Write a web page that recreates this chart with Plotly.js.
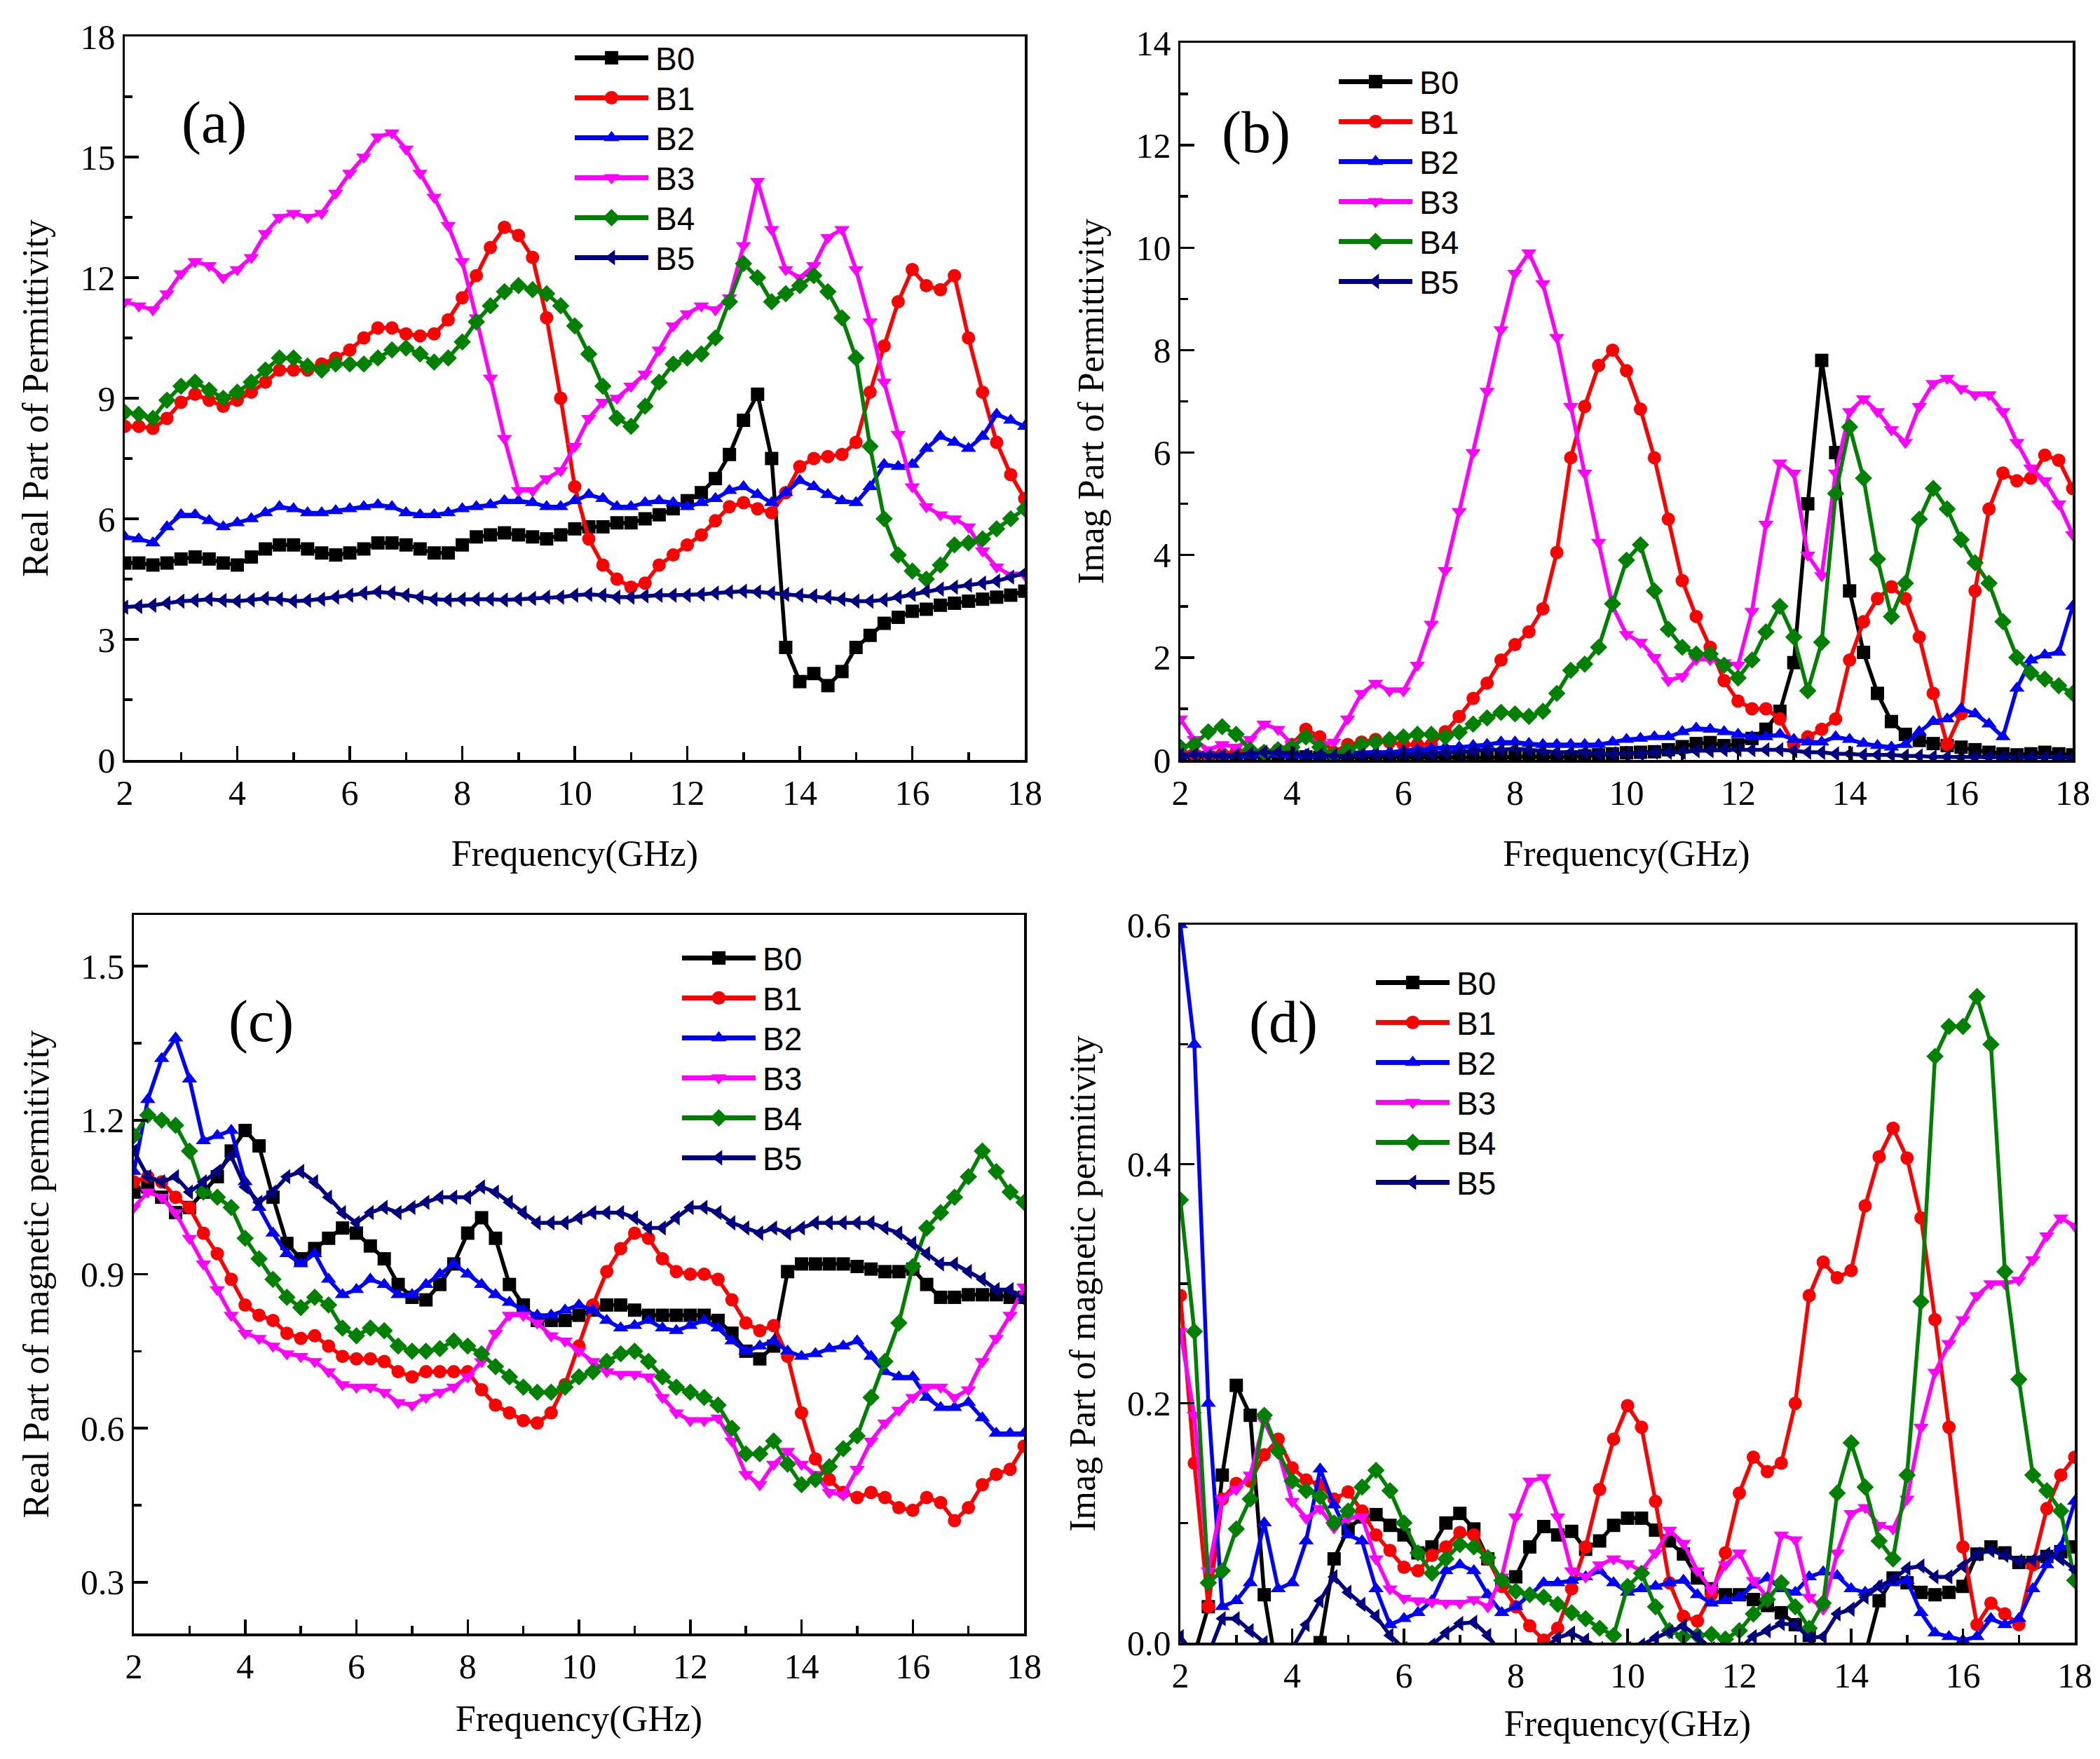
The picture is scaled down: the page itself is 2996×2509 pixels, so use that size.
<!DOCTYPE html>
<html>
<head>
<meta charset="utf-8">
<script src="https://cdn.plot.ly/plotly-3.0.1.min.js"></script>
<style>html,body{margin:0;padding:0;background:#fff;} #chart{width:2996px;height:2509px;}</style>
</head>
<body>
<div id="chart"></div>
<script>
var freq = [2,2.25,2.5,2.75,3,3.25,3.5,3.75,4,4.25,4.5,4.75,5,5.25,5.5,5.75,6,6.25,6.5,6.75,7,7.25,7.5,7.75,8,8.25,8.5,8.75,9,9.25,9.5,9.75,10,10.25,10.5,10.75,11,11.25,11.5,11.75,12,12.25,12.5,12.75,13,13.25,13.5,13.75,14,14.25,14.5,14.75,15,15.25,15.5,15.75,16,16.25,16.5,16.75,17,17.25,17.5,17.75,18];
var seriesNames = ["B0","B1","B2","B3","B4","B5"];
var seriesColors = ["#000000","#ff0000","#0000ff","#ff00ff","#008000","#000080"];
var seriesSymbols = ["square","circle","triangle-up","triangle-down","diamond","triangle-left"];
var panelLabels = ["(a)","(b)","(c)","(d)"];
var yTitles = ["Real Part of Permittivity","Imag Part of Permittivity","Real Part of magnetic permitivity","Imag Part of magnetic permitivity"];
var xTitle = "Frequency(GHz)";

// (a) Real part of permittivity
var a_B0 = [4.9,4.9,4.85,4.9, 5.0,5.05,5.0,4.9, 4.85,5.05,5.25,5.35, 5.35,5.25,5.15,5.1, 5.15,5.25,5.4,5.4, 5.35,5.25,5.15,5.15, 5.35,5.55,5.6,5.65, 5.6,5.55,5.5,5.6, 5.75,5.8,5.8,5.9, 5.9,6.0,6.1,6.25, 6.45,6.65,7.0,7.6, 8.45,9.1,7.5,2.8, 1.95,2.15,1.85,2.2, 2.8,3.1,3.4,3.55, 3.7,3.75,3.85,3.9, 3.95,4.0,4.05,4.1, 4.2];
var a_B1 = [8.3,8.3,8.25,8.5, 8.9,9.1,8.95,8.8, 8.95,9.15,9.4,9.7, 9.7,9.7,9.85,10.0, 10.2,10.5,10.75,10.75, 10.6,10.55,10.6,10.95, 11.5,12.05,12.75,13.25, 13.05,12.5,11.0,9.0, 6.8,5.5,4.85,4.5, 4.3,4.4,4.85,5.1, 5.35,5.6,5.95,6.3, 6.4,6.25,6.15,6.65, 7.3,7.5,7.55,7.6, 7.9,9.15,10.3,11.4, 12.2,11.8,11.7,12.05, 10.5,9.15,7.9,7.1, 6.5];
var a_B2 = [5.55,5.5,5.4,5.8, 6.1,6.1,5.95,5.8, 5.9,6.0,6.15,6.3, 6.25,6.15,6.15,6.2, 6.25,6.3,6.35,6.3, 6.15,6.1,6.1,6.15, 6.25,6.3,6.35,6.45, 6.45,6.4,6.3,6.3, 6.45,6.6,6.5,6.3, 6.3,6.4,6.45,6.4, 6.3,6.4,6.5,6.7, 6.8,6.6,6.4,6.65, 6.95,6.8,6.6,6.45, 6.4,6.8,7.35,7.3, 7.35,7.75,8.05,7.9, 7.75,8.05,8.6,8.45, 8.3];
var a_B3 = [11.4,11.3,11.2,11.6, 12.1,12.4,12.3,12.0, 12.2,12.5,13.1,13.5, 13.6,13.5,13.6,14.1, 14.6,15.0,15.5,15.6, 15.2,14.6,14.0,13.3, 12.4,11.0,9.5,8.0, 6.7,6.7,7.0,7.2, 7.8,8.5,8.9,9.0, 9.3,9.6,10.2,10.8, 11.1,11.3,11.2,11.5, 12.8,14.4,13.2,12.2, 12.0,12.3,13.0,13.2, 12.2,10.9,9.4,8.1, 6.8,6.3,6.1,6.0, 5.8,5.2,4.8,4.6, 4.6];
var a_B4 = [8.65,8.6,8.5,8.95, 9.3,9.4,9.2,9.0, 9.15,9.4,9.7,10.0, 10.0,9.8,9.7,9.85, 9.85,9.85,10.0,10.2, 10.25,10.1,9.9,10.0, 10.4,10.9,11.3,11.65, 11.8,11.7,11.6,11.3, 10.8,10.1,9.3,8.5, 8.3,8.8,9.4,9.85, 10.0,10.1,10.5,11.4, 12.35,12.0,11.4,11.6, 11.8,12.05,11.65,11.0, 10.0,7.8,6.0,5.1, 4.7,4.5,4.85,5.35, 5.4,5.5,5.75,6.0, 6.25];
var a_B5 = [3.8,3.82,3.85,3.9, 3.95,3.97,4.0,3.97, 3.95,3.98,4.02,4.0, 3.95,3.97,4.0,4.05, 4.1,4.15,4.18,4.15, 4.1,4.05,4.0,3.98, 4.0,4.0,4.0,3.98, 4.0,4.02,4.05,4.05, 4.1,4.12,4.1,4.05, 4.05,4.08,4.1,4.1, 4.1,4.12,4.15,4.18, 4.2,4.18,4.15,4.12, 4.1,4.08,4.05,4.0, 3.95,3.95,3.98,4.05, 4.12,4.2,4.25,4.3, 4.35,4.4,4.45,4.55, 4.65];

// (b) Imaginary part of permittivity
var b_B0 = [0.06,0.06,0.05,0.05, 0.05,0.06,0.08,0.08, 0.07,0.06,0.05,0.05, 0.05,0.05,0.06,0.06, 0.06,0.05,0.05,0.05, 0.05,0.04,0.04,0.05, 0.06,0.06,0.05,0.05, 0.06,0.08,0.1,0.12, 0.14,0.15,0.16,0.2, 0.26,0.32,0.34,0.28, 0.3,0.42,0.6,0.95, 1.9,5.0,7.8,6.0, 3.3,2.1,1.3,0.75, 0.5,0.38,0.32,0.28, 0.25,0.2,0.15,0.12, 0.1,0.12,0.15,0.12, 0.1];
var b_B1 = [0.15,0.12,0.1,0.12, 0.15,0.15,0.15,0.2, 0.3,0.6,0.45,0.15, 0.3,0.35,0.4,0.35, 0.3,0.3,0.3,0.55, 0.85,1.2,1.5,1.95, 2.25,2.5,2.95,4.05, 5.9,6.9,7.7,8.0, 7.6,6.85,5.9,4.7, 3.5,2.8,2.2,1.55, 1.15,1.0,1.0,0.8, 0.3,0.45,0.6,0.8, 1.95,2.7,3.15,3.38, 3.15,2.4,1.3,0.3, 0.9,3.3,4.9,5.6, 5.45,5.5,5.95,5.85, 5.3];
var b_B2 = [0.1,0.12,0.12,0.1, 0.1,0.1,0.12,0.12, 0.1,0.1,0.1,0.12, 0.12,0.15,0.15,0.15, 0.18,0.2,0.22,0.25, 0.25,0.28,0.3,0.35, 0.35,0.32,0.3,0.3, 0.3,0.3,0.3,0.35, 0.4,0.42,0.45,0.45, 0.55,0.62,0.6,0.55, 0.5,0.45,0.45,0.5, 0.4,0.35,0.35,0.45, 0.4,0.32,0.28,0.25, 0.3,0.55,0.75,0.8, 1.0,0.9,0.7,0.45, 1.4,1.95,2.05,2.1, 3.0];
var b_B3 = [0.8,0.4,0.2,0.3, 0.25,0.4,0.7,0.6, 0.3,0.45,0.3,0.35, 0.8,1.3,1.5,1.35, 1.35,1.85,2.65,3.7, 4.85,6.0,7.2,8.4, 9.5,9.9,9.3,8.25, 6.9,5.6,4.25,3.0, 2.45,2.3,2.0,1.55, 1.63,1.96,1.96,1.9, 1.85,2.9,4.6,5.8, 5.6,4.0,3.6,5.6, 6.8,7.05,6.8,6.45, 6.2,6.9,7.35,7.45, 7.25,7.13,7.13,6.8, 6.2,5.7,5.45,5.0, 4.4];
var b_B4 = [0.25,0.3,0.55,0.65, 0.5,0.2,0.15,0.2, 0.25,0.45,0.25,0.1, 0.2,0.3,0.35,0.4, 0.45,0.5,0.5,0.45, 0.54,0.7,0.82,0.93, 0.9,0.85,0.95,1.3, 1.75,1.87,2.2,3.05, 3.9,4.2,3.3,2.55, 2.2,2.07,2.07,1.85, 1.6,1.95,2.5,3.0, 2.4,1.35,2.3,5.2, 6.5,5.5,3.92,2.8, 3.45,4.7,5.3,4.9, 4.3,3.85,3.45,2.7, 2.0,1.7,1.58,1.45, 1.3];
var b_B5 = [0.1,0.1,0.08,0.08, 0.1,0.12,0.15,0.15, 0.12,0.1,0.1,0.08, 0.08,0.1,0.1,0.1, 0.1,0.12,0.12,0.15, 0.15,0.18,0.2,0.2, 0.22,0.2,0.18,0.15, 0.15,0.15,0.12,0.12, 0.12,0.12,0.15,0.15, 0.15,0.18,0.18,0.2, 0.2,0.2,0.2,0.2, 0.18,0.15,0.15,0.12, 0.12,0.1,0.1,0.1, 0.08,0.08,0.06,0.06, 0.05,0.05,0.05,0.05, 0.05,0.05,0.05,0.05, 0.05];

// (c) Real part of magnetic permeability
var c_B0 = [1.06,1.07,1.05,1.02, 1.03,1.06,1.09,1.14, 1.18,1.15,1.05,0.96, 0.93,0.95,0.97,0.99, 0.98,0.955,0.93,0.88, 0.855,0.85,0.88,0.92, 0.98,1.01,0.97,0.88, 0.84,0.81,0.81,0.81, 0.82,0.83,0.84,0.84, 0.83,0.82,0.82,0.82, 0.82,0.82,0.81,0.785, 0.75,0.735,0.76,0.905, 0.92,0.92,0.92,0.92, 0.915,0.91,0.905,0.905, 0.91,0.88,0.855,0.855, 0.86,0.86,0.86,0.855, 0.855];
var c_B1 = [1.08,1.09,1.08,1.05, 1.03,0.98,0.94,0.89, 0.84,0.82,0.81,0.785, 0.775,0.78,0.76,0.74, 0.735,0.735,0.73,0.71, 0.70,0.71,0.71,0.71, 0.71,0.675,0.645,0.63, 0.615,0.61,0.63,0.685, 0.76,0.84,0.905,0.95, 0.98,0.97,0.93,0.905, 0.90,0.90,0.89,0.85, 0.805,0.79,0.80,0.74, 0.63,0.54,0.50,0.475, 0.465,0.475,0.465,0.445, 0.44,0.465,0.455,0.42, 0.445,0.49,0.51,0.52, 0.565];
var c_B2 = [1.10,1.24,1.32,1.36, 1.28,1.16,1.17,1.18, 1.08,1.03,0.98,0.94, 0.92,0.94,0.89,0.86, 0.87,0.89,0.88,0.86, 0.86,0.88,0.90,0.92, 0.90,0.88,0.86,0.845, 0.83,0.82,0.82,0.83, 0.84,0.83,0.81,0.795, 0.80,0.81,0.795,0.79, 0.80,0.81,0.795,0.77, 0.75,0.76,0.77,0.75, 0.74,0.745,0.755,0.76, 0.77,0.74,0.71,0.70, 0.70,0.66,0.64,0.64, 0.65,0.62,0.59,0.59, 0.59];
var c_B3 = [1.03,1.06,1.05,1.02, 0.97,0.92,0.87,0.82, 0.785,0.775,0.76,0.745, 0.74,0.73,0.71,0.685, 0.68,0.68,0.67,0.65, 0.645,0.66,0.67,0.68, 0.70,0.73,0.785,0.82, 0.82,0.805,0.78,0.77, 0.75,0.73,0.71,0.705, 0.705,0.70,0.66,0.63, 0.615,0.615,0.62,0.575, 0.51,0.49,0.53,0.555, 0.53,0.51,0.475,0.47, 0.52,0.575,0.61,0.635, 0.66,0.68,0.68,0.66, 0.675,0.73,0.775,0.82, 0.875];
var c_B4 = [1.17,1.21,1.20,1.19, 1.14,1.06,1.05,1.03, 0.97,0.93,0.89,0.855, 0.835,0.855,0.84,0.795, 0.78,0.795,0.79,0.76, 0.75,0.75,0.755,0.77, 0.76,0.745,0.72,0.70, 0.68,0.67,0.67,0.68, 0.70,0.71,0.73,0.745, 0.75,0.73,0.70,0.68, 0.67,0.66,0.645,0.60, 0.55,0.55,0.575,0.53, 0.49,0.50,0.525,0.56, 0.585,0.66,0.73,0.805, 0.915,0.99,1.02,1.05, 1.09,1.14,1.10,1.06, 1.04];
var c_B5 = [1.14,1.09,1.08,1.09, 1.06,1.08,1.10,1.13, 1.07,1.04,1.06,1.09, 1.10,1.08,1.05,1.02, 1.0,1.02,1.03,1.02, 1.03,1.04,1.05,1.05, 1.05,1.07,1.06,1.04, 1.02,1.0,1.0,1.0, 1.01,1.02,1.02,1.02, 1.01,0.99,0.99,1.01, 1.03,1.03,1.02,1.0, 0.99,0.98,0.99,0.98, 0.99,1.0,1.0,1.0, 1.0,1.0,0.99,0.98, 0.96,0.94,0.92,0.92, 0.905,0.89,0.87,0.87, 0.85];

// (d) Imaginary part of magnetic permeability
var d_B0 = [-0.02,-0.01,0.03,0.14, 0.215,0.19,0.04,-0.03, -0.05,-0.04,0.0,0.07, 0.095,0.105,0.107,0.098, 0.09,0.075,0.08,0.1, 0.108,0.095,0.07,0.05, 0.055,0.08,0.097,0.09, 0.093,0.078,0.085,0.098, 0.104,0.104,0.094,0.085, 0.074,0.054,0.045,0.04, 0.04,0.036,0.031,0.025, 0.015,0.006,-0.02,-0.04, -0.04,-0.01,0.035,0.054, 0.05,0.042,0.04,0.042, 0.047,0.074,0.08,0.075, 0.067,0.067,0.072,0.076, 0.08];
var d_B1 = [0.29,0.15,0.03,0.12, 0.133,0.135,0.157,0.17, 0.146,0.136,0.132,0.12, 0.126,0.11,0.09,0.077, 0.063,0.06,0.073,0.08, 0.092,0.09,0.07,0.047, 0.03,0.014,0.002,0.012, 0.045,0.08,0.128,0.17, 0.198,0.18,0.118,0.05, 0.022,0.018,0.04,0.075, 0.125,0.155,0.143,0.15, 0.2,0.29,0.318,0.305, 0.311,0.365,0.406,0.43, 0.405,0.355,0.27,0.18, 0.08,0.015,0.033,0.024, 0.015,0.065,0.112,0.14, 0.155];
var d_B2 = [0.6,0.5,0.2,0.03, 0.035,0.05,0.1,0.045, 0.05,0.085,0.145,0.115, 0.09,0.085,0.045,0.015, 0.02,0.025,0.035,0.06, 0.065,0.06,0.04,0.025, 0.03,0.04,0.05,0.05, 0.052,0.055,0.06,0.05, 0.042,0.045,0.047,0.05, 0.052,0.04,0.033,0.035, 0.038,0.048,0.054,0.045, 0.042,0.055,0.059,0.056, 0.045,0.042,0.047,0.05, 0.052,0.025,0.008,0.005, 0.002,0.005,0.02,0.015, 0.02,0.045,0.065,0.08, 0.118];
var d_B3 = [0.26,0.19,0.06,0.12, 0.128,0.14,0.185,0.16, 0.118,0.104,0.112,0.096, 0.104,0.105,0.07,0.045, 0.037,0.035,0.034,0.033, 0.033,0.036,0.03,0.055, 0.105,0.135,0.138,0.105, 0.06,0.055,0.065,0.07, 0.066,0.06,0.075,0.094, 0.083,0.06,0.044,0.065, 0.075,0.052,0.038,0.09, 0.086,0.038,0.028,0.075, 0.108,0.113,0.098,0.095, 0.12,0.18,0.226,0.25, 0.27,0.29,0.30,0.30, 0.303,0.32,0.34,0.355, 0.348];
var d_B4 = [0.37,0.26,0.05,0.06, 0.095,0.12,0.19,0.16, 0.135,0.127,0.122,0.10, 0.11,0.13,0.144,0.127, 0.10,0.075,0.058,0.07, 0.082,0.08,0.071,0.052, 0.043,0.04,0.038,0.032, 0.025,0.02,0.012,0.006, 0.047,0.058,0.03,0.01, 0.005,0.006,0.007,0.003, 0.01,0.024,0.036,0.05, 0.03,0.012,0.033,0.125, 0.167,0.13,0.085,0.07, 0.14,0.285,0.49,0.515, 0.515,0.54,0.50,0.31, 0.22,0.14,0.127,0.11, 0.052];
var d_B5 = [0.005,-0.01,-0.01,0.02, 0.02,0.01,0.0,-0.02, -0.005,0.015,0.035,0.055, 0.042,0.032,0.022,0.006, -0.005,-0.01,-0.002,0.008, 0.016,0.017,0.006,-0.01, -0.02,-0.01,-0.005,0.004, 0.008,0.002,-0.005,-0.01, -0.005,-0.002,0.004,0.009, 0.014,0.005,-0.005,-0.01, -0.005,0.005,0.01,0.016, 0.015,0.004,0.005,0.024, 0.028,0.038,0.047,0.053, 0.062,0.064,0.055,0.055, 0.064,0.074,0.077,0.073, 0.068,0.069,0.074,0.07, 0.061];

var panelData = [
  [a_B0,a_B1,a_B2,a_B3,a_B4,a_B5],
  [b_B0,b_B1,b_B2,b_B3,b_B4,b_B5],
  [c_B0,c_B1,c_B2,c_B3,c_B4,c_B5],
  [d_B0,d_B1,d_B2,d_B3,d_B4,d_B5]
];

var W = 2996, H = 2509;
function px(x){ return x / W; }
function py(y){ return 1 - y / H; }

var panels = [
  {xd:[px(178),px(1462)], yd:[py(1084),py(52)],  yr:[0,18],   dt:3,   t0:0,   mdt:1.5,  fmt:'',    xstand:42, ystand:30, leg:[px(815),py(46)],  lab:[px(305),py(175)]},
  {xd:[px(1684),px(2957)], yd:[py(1084),py(61)], yr:[0,14],   dt:2,   t0:0,   mdt:1,    fmt:'',    xstand:42, ystand:30, leg:[px(1905),py(80)], lab:[px(1792),py(189)]},
  {xd:[px(191),px(1461)], yd:[py(2330),py(1305)], yr:[0.2,1.6], dt:0.3, t0:0.3, mdt:0.15, fmt:'.1f', xstand:30, ystand:30, leg:[px(968),py(1330)], lab:[px(372),py(1457)]},
  {xd:[px(1684),px(2960)], yd:[py(2343),py(1319)], yr:[0,0.6], dt:0.2, t0:0,   mdt:0.1,  fmt:'.1f', xstand:24, ystand:30, leg:[px(1958),py(1365)], lab:[px(1831),py(1458)]}
];

var serif = 'Liberation Serif, Times New Roman, serif';
var sans = 'Liberation Sans, Arial, sans-serif';

var traces = [];
var layout = {
  width: W, height: H,
  margin: {l:0, r:0, t:0, b:0},
  paper_bgcolor: '#ffffff', plot_bgcolor: '#ffffff',
  showlegend: true,
  annotations: []
};

panels.forEach(function(p, i){
  var n = i + 1;
  var xa = 'xaxis' + (n === 1 ? '' : n);
  var ya = 'yaxis' + (n === 1 ? '' : n);
  var xr = 'x' + (n === 1 ? '' : n);
  var yr = 'y' + (n === 1 ? '' : n);
  var legName = 'legend' + (n === 1 ? '' : n);
  layout[xa] = {
    domain: p.xd, anchor: yr, range: [2, 18], tick0: 2, dtick: 2,
    ticks: 'inside', ticklen: 20, tickwidth: 3.5, tickcolor: '#000',
    minor: {ticks: 'inside', ticklen: 11, tickwidth: 3.5, tickcolor: '#000', dtick: 1, tick0: 2},
    showline: true, linewidth: 3.5, linecolor: '#000', mirror: true,
    showgrid: false, zeroline: false, automargin: false,
    tickfont: {family: serif, size: 50, color: '#000'},
    title: {text: xTitle, font: {family: serif, size: 52, color: '#000'}, standoff: p.xstand}
  };
  layout[ya] = {
    domain: p.yd, anchor: xr, range: p.yr, tick0: p.t0, dtick: p.dt, tickformat: p.fmt,
    ticks: 'inside', ticklen: 20, tickwidth: 3.5, tickcolor: '#000',
    minor: {ticks: 'inside', ticklen: 11, tickwidth: 3.5, tickcolor: '#000', dtick: p.mdt, tick0: p.t0},
    showline: true, linewidth: 3.5, linecolor: '#000', mirror: true,
    showgrid: false, zeroline: false, automargin: false,
    tickfont: {family: serif, size: 50, color: '#000'},
    title: {text: yTitles[i], font: {family: serif, size: 52, color: '#000'}, standoff: p.ystand}
  };
  layout[legName] = {
    x: p.leg[0], y: p.leg[1], xanchor: 'left', yanchor: 'top',
    bgcolor: 'rgba(0,0,0,0)', borderwidth: 0,
    font: {family: sans, size: 46, color: '#000'},
    itemwidth: 110, tracegroupgap: 0
  };
  layout.annotations.push({
    xref: 'paper', yref: 'paper', x: p.lab[0], y: p.lab[1], xanchor: 'center', yanchor: 'middle',
    text: panelLabels[i], showarrow: false, font: {family: serif, size: 84, color: '#000'}
  });
  panelData[i].forEach(function(vals, k){
    traces.push({
      type: 'scatter', mode: 'lines+markers', x: freq, y: vals,
      xaxis: xr, yaxis: yr, name: seriesNames[k], legend: legName,
      line: {color: seriesColors[k], width: 5.5},
      marker: {symbol: seriesSymbols[k], size: 19, color: seriesColors[k], line: {width: 0}}
    });
  });
});

Plotly.newPlot('chart', traces, layout, {staticPlot: true}).then(function(gd){
  var L = 105, ROW = 57;
  var groups = [];
  gd.querySelectorAll('.legendlines').forEach(function(ll){
    var item = ll.closest('.traces');
    if (!item) return;
    var parent = item.parentNode;
    if (groups.indexOf(parent) < 0) { groups.push(parent); }
    item.querySelectorAll('.legendlines path').forEach(function(pth){
      pth.setAttribute('d', 'M5,0h' + L);
      pth.style.strokeWidth = '7px';
    });
    item.querySelectorAll('.legendpoints path.scatterpts').forEach(function(pth){
      pth.setAttribute('transform', 'translate(' + (5 + L/2) + ',0) scale(1.2)');
    });
  });
  groups.forEach(function(parent){
    var items = Array.prototype.filter.call(parent.children, function(c){ return c.classList && c.classList.contains('traces'); });
    var y0 = null;
    items.forEach(function(it, j){
      var tr = it.getAttribute('transform') || '';
      var m = tr.match(/translate\(\s*([-\d.eE]+)[ ,]+([-\d.eE]+)\s*\)/);
      if (!m) return;
      var x = parseFloat(m[1]), y = parseFloat(m[2]);
      if (y0 === null) y0 = y;
      it.setAttribute('transform', 'translate(' + x + ',' + (y0 + j * ROW) + ')');
    });
  });
});
</script>
</body>
</html>
